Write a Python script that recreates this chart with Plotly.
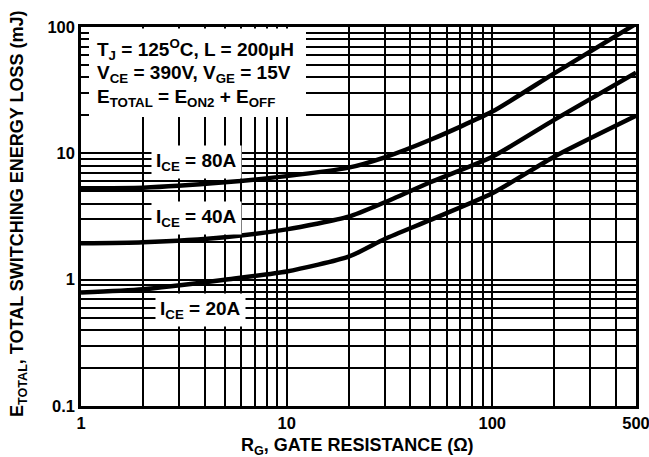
import plotly.graph_objects as go

# ---- data ----
rg = [1, 2, 5, 10, 20, 30, 50, 100, 200, 500]
e_80a = [5.3, 5.35, 5.9, 6.6, 7.7, 9.3, 12.8, 21.4, 43, 106]
e_40a = [1.94, 1.98, 2.17, 2.5, 3.15, 4.1, 5.9, 9.4, 18.4, 43.5]
e_20a = [0.79, 0.84, 1.0, 1.16, 1.52, 2.1, 2.97, 4.83, 9.4, 19.8]

x_tickvals = [1, 2, 3, 4, 5, 6, 7, 8, 9, 10, 20, 30, 40, 50, 60, 70, 80, 90, 100, 200, 300, 400, 500]
x_ticktext = ["1", "", "", "", "", "", "", "", "", "10", "", "", "", "", "", "", "", "", "100", "", "", "", "500"]
y_tickvals = [0.1, 0.2, 0.3, 0.4, 0.5, 0.6, 0.7, 0.8, 0.9, 1, 2, 3, 4, 5, 6, 7, 8, 9, 10,
              20, 30, 40, 50, 60, 70, 80, 90, 100]
y_ticktext = ["0.1", "", "", "", "", "", "", "", "", "1", "", "", "", "", "", "", "", "", "10",
              "", "", "", "", "", "", "", "", "100"]

FONT = "Liberation Sans, Arial, sans-serif"

fig = go.Figure()
for ys in (e_80a, e_40a, e_20a):
    fig.add_trace(go.Scatter(x=rg, y=ys, mode="lines",
                             line=dict(color="black", width=4.5, shape="spline", smoothing=0.6),
                             cliponaxis=False, showlegend=False, hoverinfo="skip"))

W, H = 649, 457
L, R, T, B = 81, 636, 27, 406


def px(xp):
    return (xp - L) / (R - L)


def py(yp):
    return 1 - (yp - T) / (B - T)


# white box behind the conditions text
fig.add_shape(type="rect", xref="paper", yref="paper",
              x0=px(89), x1=px(306), y0=py(117), y1=py(28.5),
              fillcolor="white", line=dict(width=0), layer="above")

cond_lines = [
    "T<sub>J</sub> = 125<sup>O</sup>C, L = 200μH",
    "V<sub>CE</sub> = 390V, V<sub>GE</sub> = 15V",
    "E<sub>TOTAL</sub> = E<sub>ON2</sub> + E<sub>OFF</sub>",
]
cond_y = [50, 74, 98]
for txt, yy in zip(cond_lines, cond_y):
    fig.add_annotation(text=txt, xref="paper", yref="paper", x=px(95), y=py(yy),
                       xanchor="left", yanchor="middle", showarrow=False,
                       font=dict(family=FONT, size=19, color="black", weight="bold"))

ice_labels = ["I<sub>CE</sub> = 80A", "I<sub>CE</sub> = 40A", "I<sub>CE</sub> = 20A"]
ice_pos = [(151, 162), (151, 218), (155, 310)]
for txt, (xx, yy) in zip(ice_labels, ice_pos):
    fig.add_annotation(text=txt, xref="paper", yref="paper", x=px(xx), y=py(yy),
                       xanchor="left", yanchor="middle", showarrow=False,
                       bgcolor="white", borderpad=4,
                       font=dict(family=FONT, size=19, color="black", weight="bold"))

# axis titles
fig.add_annotation(text="E<sub>TOTAL</sub>, TOTAL SWITCHING ENERGY LOSS (mJ)",
                   xref="paper", yref="paper", x=px(18), y=py(214), textangle=-90,
                   xanchor="center", yanchor="middle", showarrow=False,
                   font=dict(family=FONT, size=18, color="black", weight="bold"))
fig.add_annotation(text="R<sub>G</sub>, GATE RESISTANCE (Ω)",
                   xref="paper", yref="paper", x=px(357), y=py(446),
                   xanchor="center", yanchor="middle", showarrow=False,
                   font=dict(family=FONT, size=18, color="black", weight="bold"))

axis_common = dict(type="log", showgrid=True, gridcolor="black", gridwidth=1.6,
                   showline=True, linecolor="black", linewidth=2.5, mirror=True,
                   ticks="", zeroline=False, ticklabeloverflow="allow",
                   tickfont=dict(family=FONT, size=16.5, color="black", weight="bold"))

fig.update_xaxes(range=[0, 2.69897], tickmode="array", tickvals=x_tickvals, ticktext=x_ticktext,
                 **axis_common)
fig.update_yaxes(range=[-1, 2], tickmode="array", tickvals=y_tickvals, ticktext=y_ticktext,
                 **axis_common)

fig.update_layout(width=W, height=H, margin=dict(l=L, r=W - R, t=T, b=H - B, autoexpand=False),
                  paper_bgcolor="white", plot_bgcolor="white",
                  font=dict(family=FONT, color="black"))

fig.write_html("out.html", config={"displayModeBar": False},
               post_script="document.body.style.margin='0';document.body.style.padding='0';")
